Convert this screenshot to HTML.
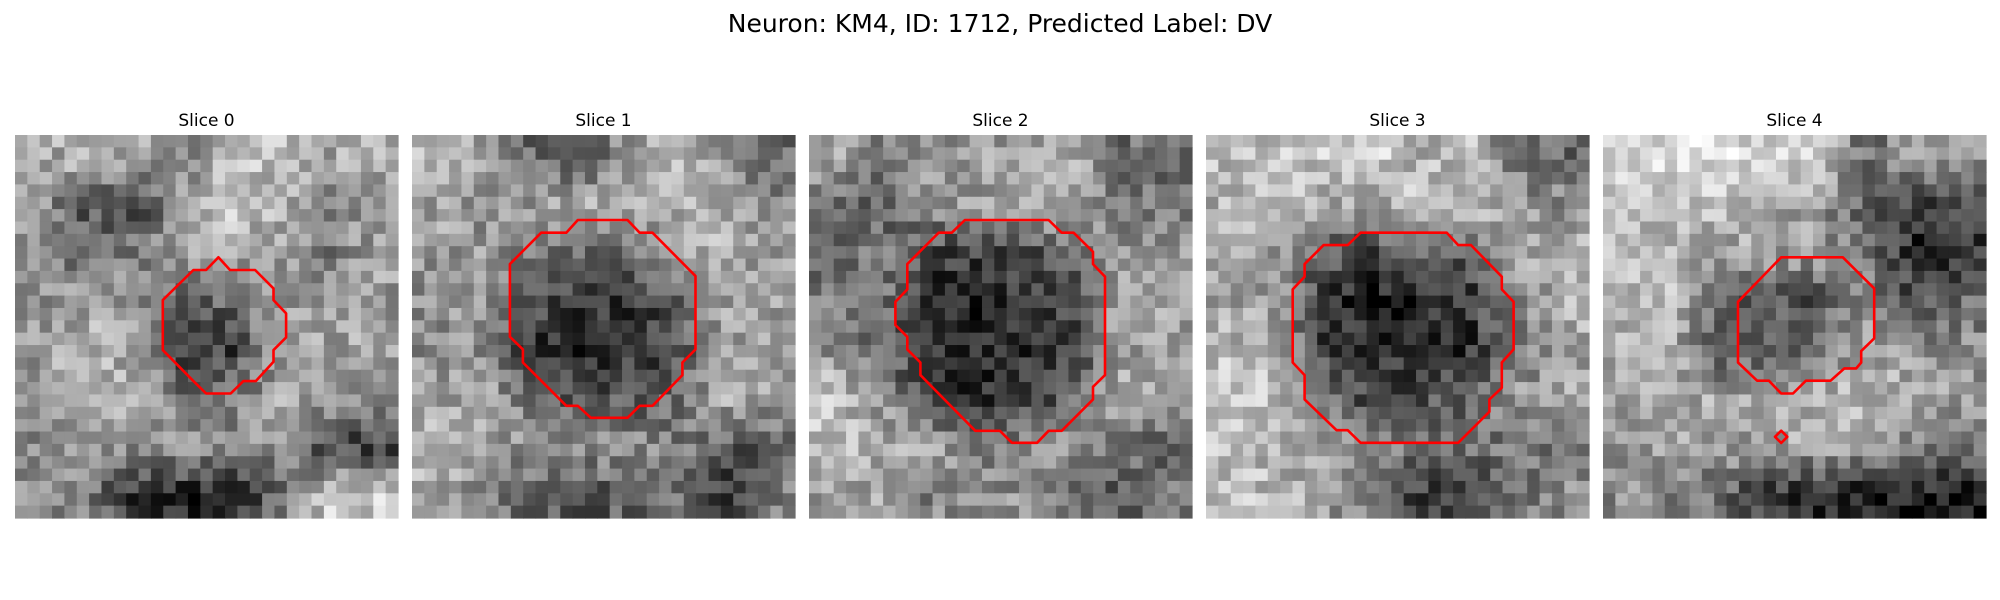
<!DOCTYPE html>
<html><head><meta charset="utf-8">
<style>
html,body{margin:0;padding:0;background:#fff;width:2000px;height:600px;overflow:hidden}
svg{display:block}
text{font-family:"DejaVu Sans","Liberation Sans",sans-serif;fill:#000}
</style></head>
<body>
<svg id="fig" width="2000" height="600" viewBox="0 0 2000 600">
<text x="1000" y="32" font-size="25" text-anchor="middle">Neuron: KM4, ID: 1712, Predicted Label: DV</text>
<g id="panels"></g>
</svg>
<script>
// Coarse 8x8 intensity maps (0-255) per slice
const coarse0 = [
[160,170,165,130,175,185,160,165],[150,90,80,150,190,170,140,150],[140,110,130,150,170,150,120,160],[140,160,150,100,110,150,150,150],
[150,175,160,70,70,150,160,160],[150,170,165,120,120,160,150,150],[140,150,140,150,140,140,70,70],[140,120,60,50,50,110,190,190]];
const coarse1 = [
[170,150,110,90,150,170,150,110],[160,140,150,170,170,170,160,140],[150,150,130,110,100,170,170,150],[140,150,90,60,60,90,160,160],
[140,140,60,50,60,80,160,150],[160,160,120,80,90,110,170,150],[180,160,140,140,140,130,90,100],[160,130,100,90,100,110,70,130]];
const coarse2 = [
[170,130,150,150,160,170,110,120],[120,90,140,150,170,170,120,110],[110,130,80,70,80,100,150,160],[130,120,50,45,55,80,170,160],
[140,110,55,55,60,80,160,150],[190,140,90,50,70,100,170,170],[180,170,160,120,140,150,110,100],[150,160,130,150,140,110,90,130]];
const coarse3 = [
[180,190,190,200,170,180,120,110],[170,190,160,150,190,190,150,140],[170,150,100,70,100,100,160,170],[160,150,60,40,50,60,140,170],
[180,170,70,50,55,60,120,160],[200,180,110,70,90,110,150,160],[180,170,150,130,120,110,120,110],[180,180,150,120,70,80,120,140]];
const coarse4 = [
[200,200,210,200,190,110,150,150],[190,180,180,170,150,90,60,80],[180,170,160,150,150,110,50,60],[170,180,90,90,90,150,80,110],
[170,160,90,100,110,160,150,140],[160,170,160,160,170,180,170,150],[150,160,150,160,160,150,130,110],[140,130,110,60,50,40,40,40]];
// Contours in grid-cell units (31x31 grid)
const contour0 = [[16.46,9.9],[17.4,10.93],[19.43,10.93],[20.92,12.42],[20.92,13.36],[21.94,14.44],[21.94,16.38],[20.92,17.41],[20.92,18.35],[19.49,19.92],[18.49,19.92],[17.46,20.92],[15.47,20.92],[14.44,19.92],[11.96,17.41],[11.96,13.36],[14.44,10.93],[15.47,10.93]];
const contour1 = [[13.42,6.88],[17.44,6.88],[18.42,7.91],[19.47,7.91],[22.95,11.42],[22.95,17.35],[21.89,18.41],[21.89,19.43],[19.47,21.92],[18.42,21.92],[17.44,22.89],[14.48,22.89],[13.42,21.92],[12.49,21.92],[8.98,18.41],[8.98,17.35],[7.92,16.33],[7.92,10.45],[10.46,7.91],[12.49,7.91]];
const contour2 = [[12.62,6.88],[19.39,6.88],[20.45,7.91],[21.42,7.91],[22.99,9.45],[22.99,10.45],[23.96,11.47],[23.96,19.43],[22.99,20.38],[22.99,21.4],[20.45,23.94],[19.39,23.94],[18.46,24.91],[16.43,24.91],[15.45,23.94],[13.46,23.94],[9.02,19.43],[9.02,18.41],[7.96,17.35],[7.96,16.33],[6.99,15.38],[6.99,13.5],[7.96,12.5],[7.96,10.45],[10.5,7.91],[11.56,7.91]];
const contour3 = [[12.51,7.91],[19.49,7.91],[20.41,8.91],[21.45,8.91],[23.94,11.47],[23.94,12.5],[24.9,13.5],[24.9,17.35],[23.94,18.41],[23.94,20.46],[22.94,21.4],[22.94,22.4],[20.41,24.91],[12.51,24.91],[11.47,23.89],[10.56,23.89],[7.98,21.4],[7.98,19.43],[7.02,18.41],[7.02,12.5],[7.98,11.47],[7.98,10.45],[9.52,8.91],[11.47,8.91]];
const contour4 = [[14.42,9.9],[19.41,9.9],[21.95,12.42],[21.95,16.46],[20.9,17.49],[20.9,18.41],[20.49,18.89],[19.54,18.89],[18.42,19.89],[16.42,19.89],[15.38,20.92],[14.42,20.92],[13.43,19.89],[12.47,19.89],[10.93,18.41],[10.93,13.5]];
const contour4b = [[14.42,23.93],[14.92,24.43],[14.42,24.93],[13.92,24.43]];
const sliceLabels = ["Slice 0","Slice 1","Slice 2","Slice 3","Slice 4"];
const coarseMaps = [coarse0,coarse1,coarse2,coarse3,coarse4];
const contours = [[contour0],[contour1],[contour2],[contour3],[contour4,contour4b]];

const NS="http://www.w3.org/2000/svg";
const N=31, PW=383, PY=135, PX=[15,412,809,1206,1603], CS=PW/N;
function hash(a,b,c){let h=(a*374761393+b*668265263+c*2147483647)|0;h=(h^(h>>>13))*1274126177|0;h^=h>>>16;return ((h>>>0)%1000)/1000;}
function sample(m,gx,gy){
  const fx=Math.min(Math.max((gx+0.5)/N*8-0.5,0),7),fy=Math.min(Math.max((gy+0.5)/N*8-0.5,0),7);
  const x0=Math.floor(fx),y0=Math.floor(fy),x1=Math.min(x0+1,7),y1=Math.min(y0+1,7),tx=fx-x0,ty=fy-y0;
  return (m[y0][x0]*(1-tx)+m[y0][x1]*tx)*(1-ty)+(m[y1][x0]*(1-tx)+m[y1][x1]*tx)*ty;
}
const root=document.getElementById('panels');
sliceLabels.forEach((lab,p)=>{
  const g=document.createElementNS(NS,'g');
  
  
  const t=document.createElementNS(NS,'text');
  t.setAttribute('x',PX[p]+PW/2);t.setAttribute('y',126);t.setAttribute('font-size','17');t.setAttribute('text-anchor','middle');
  t.textContent=lab;
  
  
  g.appendChild(t);
  const img=document.createElementNS(NS,'g');
  
  
  for(let y=0;y<N;y++)for(let x=0;x<N;x++){
    let v=sample(coarseMaps[p],x,y);
    v=128+(v-128)*1.15+(hash(x,y,p+1)-0.5)*85;
    v=Math.round(Math.max(0,Math.min(255,v)));
    const r=document.createElementNS(NS,'rect');
    r.setAttribute('x',(PX[p]+x*CS).toFixed(2));r.setAttribute('y',(PY+y*CS).toFixed(2));
    r.setAttribute('width',(CS+0.6).toFixed(2));r.setAttribute('height',(CS+0.6).toFixed(2));
    r.setAttribute('fill','rgb('+v+','+v+','+v+')');
    img.appendChild(r);
  }
  g.appendChild(img);
  contours[p].forEach(c=>{
    const pl=document.createElementNS(NS,'polygon');
    pl.setAttribute('points',c.map(q=>(PX[p]+q[0]*CS).toFixed(1)+','+(PY+q[1]*CS).toFixed(1)).join(' '));
    pl.setAttribute('fill','none');pl.setAttribute('stroke','#ff0000');pl.setAttribute('stroke-width','2.6');pl.setAttribute('stroke-linejoin','round');
    
    
    g.appendChild(pl);
  });
  root.appendChild(g);
});
</script>
</body></html>
